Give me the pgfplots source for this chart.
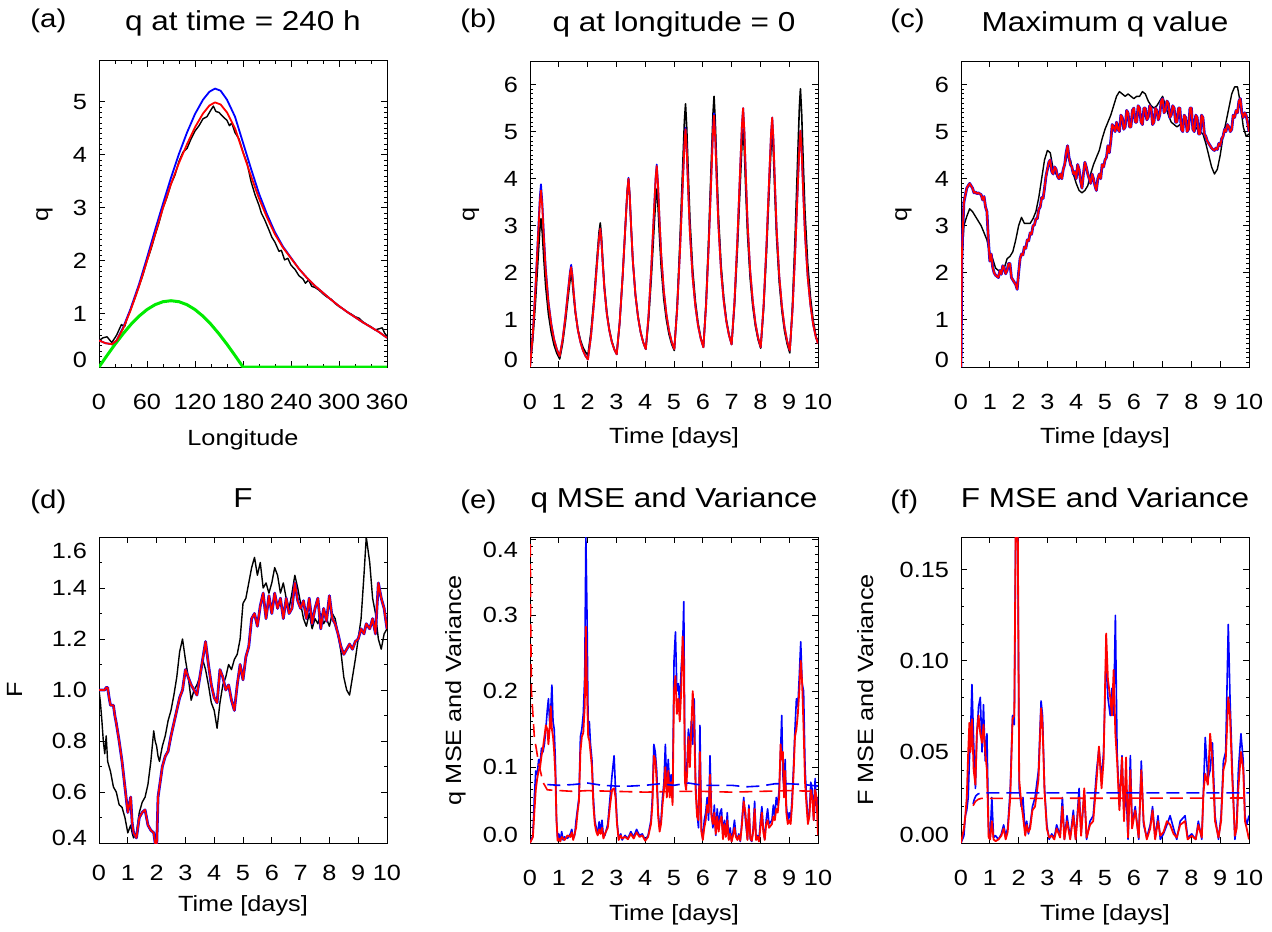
\documentclass[border=0pt]{standalone}
\usepackage{fontspec}
\setmainfont{Liberation Sans}[FakeStretch=1.15]
\usepackage{pgfplots}
\pgfplotsset{compat=1.18}
\usepackage{pgfplotstable}

\definecolor{cblue}{RGB}{0,0,255}
\definecolor{cred}{RGB}{255,0,0}
\definecolor{cgreen}{RGB}{0,235,0}
\newcommand\tickfont{\fontsize{11}{13}\selectfont}
\newcommand\labfont{\fontsize{11}{13}\selectfont}
\newcommand\titfont{\fontsize{13.7}{16}\selectfont}
\newcommand\letfont{\fontsize{12.8}{15}\selectfont}

\pgfplotsset{
  panel/.style={
    scale only axis, width=144pt, height=153pt, anchor=south west,
    axis line style={line width=0.5pt},
    tick align=inside, xtick pos=both, ytick pos=both,
    major tick length=2.8pt, minor tick length=1.5pt,
    every tick/.style={black, line width=0.5pt},
    /pgf/number format/assume math mode=true,
    title style={font=\titfont, at={([yshift=9pt]axis description cs:0.5,1)}, anchor=base},
    yticklabel style={font=\tickfont, xshift=-2.5pt},
    xticklabel style={font=\tickfont},
    every axis plot/.append style={line join=round},
  },
  ylab/.style={every axis y label/.style={at={([xshift=-#1]axis description cs:0,0.5)}, anchor=base, rotate=90, font=\labfont}},
  xlab/.style={every axis x label/.style={at={([yshift=-#1]axis description cs:0.5,0)}, anchor=base, font=\labfont}},
  timex/.style={xmin=0, xmax=10, xtick={0,1,2,3,4,5,6,7,8,9,10}, xlabel={Time [days]}},
  dsh/.style={dash pattern=on 6.5pt off 3.5pt},
}

\pgfplotstableread{
x red blue
0 0.50 0.50
8 0.45 0.45
16 0.43 0.43
22 0.50 0.50
30 0.72 0.74
39 1.05 1.08
50 1.52 1.56
60 2.00 2.06
70 2.50 2.58
80 3.00 3.08
90 3.45 3.57
100 3.85 4.02
110 4.20 4.42
120 4.52 4.77
130 4.78 5.04
138 4.93 5.19
145 4.99 5.25
152 4.95 5.21
160 4.80 5.04
170 4.50 4.72
180 4.05 4.23
190 3.60 3.74
200 3.18 3.27
210 2.82 2.88
220 2.50 2.54
230 2.25 2.27
240 2.05 2.06
250 1.85 1.85
260 1.68 1.68
270 1.53 1.53
280 1.40 1.40
290 1.27 1.27
300 1.15 1.15
310 1.04 1.04
320 0.94 0.94
330 0.84 0.84
340 0.75 0.75
350 0.66 0.66
360 0.55 0.55
}\dataArb

\pgfplotstableread{
x y
0 0.50
5 0.55
10 0.57
16 0.46
22 0.60
28 0.80
32 0.76
36 0.95
40 1.10
45 1.30
50 1.52
55 1.74
60 2.00
65 2.22
70 2.48
75 2.72
80 3.00
85 3.20
90 3.45
95 3.62
100 3.88
105 4.05
110 4.12
115 4.30
120 4.45
125 4.55
130 4.68
135 4.72
140 4.85
143 4.92
146 4.82
150 4.80
155 4.72
160 4.65
163 4.55
166 4.60
170 4.42
175 4.30
180 4.05
185 3.85
190 3.50
195 3.25
200 3.05
203 2.90
207 2.78
212 2.60
216 2.45
220 2.35
225 2.18
228 2.20
232 2.02
236 2.05
240 1.92
245 1.84
250 1.72
255 1.66
258 1.58
262 1.64
266 1.52
270 1.50
275 1.45
280 1.38
285 1.32
290 1.28
295 1.20
300 1.14
305 1.10
310 1.04
315 1.00
320 0.95
325 0.92
330 0.85
335 0.80
340 0.76
345 0.70
350 0.72
354 0.74
357 0.64
360 0.58
}\dataAk

\pgfplotstableread{
x y
0 0
10 0.217
20 0.428
30 0.625
40 0.804
50 0.958
60 1.083
70 1.175
80 1.231
90 1.250
100 1.231
110 1.175
120 1.083
130 0.958
140 0.804
150 0.625
160 0.428
170 0.217
180 0
360 0
}\dataAg

\pgfplotstableread{
t black red blue
0.000 0.000 0.000 0.000
0.095 0.567 0.675 0.698
0.190 1.386 1.650 1.707
0.285 2.360 2.810 2.910
0.342 2.930 3.490 3.608
0.380 3.150 3.750 3.880
0.426 2.852 3.398 3.515
0.478 2.316 2.764 2.858
0.543 1.720 2.060 2.128
0.640 1.124 1.356 1.398
0.738 0.736 0.899 0.924
0.835 0.468 0.582 0.595
0.933 0.289 0.371 0.376
1.030 0.170 0.230 0.230
1.130 0.494 0.570 0.580
1.230 0.962 1.062 1.080
1.330 1.520 1.648 1.680
1.390 1.844 1.988 2.030
1.430 1.970 2.120 2.170
1.471 1.798 1.924 1.960
1.517 1.488 1.571 1.590
1.575 1.144 1.179 1.190
1.662 0.800 0.787 0.787
1.749 0.577 0.532 0.532
1.836 0.422 0.356 0.356
1.923 0.319 0.238 0.238
2.010 0.250 0.160 0.160
2.118 0.756 0.660 0.660
2.225 1.486 1.383 1.383
2.333 2.358 2.245 2.245
2.397 2.863 2.745 2.745
2.440 3.060 2.940 2.940
2.480 2.781 2.673 2.673
2.526 2.279 2.192 2.192
2.583 1.721 1.658 1.658
2.668 1.163 1.124 1.124
2.754 0.800 0.777 0.777
2.839 0.549 0.537 0.537
2.925 0.382 0.377 0.377
3.010 0.270 0.270 0.270
3.113 0.941 0.941 0.941
3.215 1.911 1.911 1.911
3.318 3.068 3.068 3.068
3.379 3.739 3.739 3.739
3.420 4.000 4.000 4.020
3.462 3.638 3.638 3.638
3.510 2.986 2.986 2.986
3.570 2.262 2.262 2.262
3.660 1.538 1.538 1.538
3.750 1.068 1.068 1.068
3.840 0.742 0.742 0.742
3.930 0.525 0.525 0.525
4.020 0.380 0.380 0.380
4.115 0.992 1.080 1.080
4.210 1.876 2.092 2.092
4.305 2.930 3.298 3.298
4.362 3.542 3.998 4.020
4.400 3.780 4.270 4.300
4.443 3.437 3.881 3.900
4.492 2.820 3.181 3.181
4.553 2.134 2.403 2.403
4.644 1.448 1.625 1.625
4.736 1.002 1.119 1.119
4.827 0.693 0.769 0.769
4.919 0.487 0.536 0.536
5.010 0.350 0.380 0.380
5.108 1.293 1.221 1.221
5.205 2.656 2.435 2.435
5.303 4.280 3.883 3.883
5.361 5.223 4.723 4.723
5.400 5.590 5.050 5.080
5.443 5.073 4.587 4.587
5.493 4.142 3.754 3.754
5.555 3.108 2.828 2.828
5.648 2.074 1.902 1.902
5.741 1.402 1.300 1.300
5.834 0.937 0.883 0.883
5.927 0.627 0.605 0.605
6.020 0.420 0.420 0.420
6.113 1.379 1.306 1.306
6.205 2.765 2.585 2.585
6.298 4.418 4.110 4.110
6.353 5.377 4.996 5.030
6.390 5.750 5.340 5.390
6.433 5.223 4.854 4.880
6.482 4.274 3.979 3.979
6.543 3.220 3.007 3.007
6.634 2.166 2.035 2.035
6.726 1.481 1.403 1.403
6.817 1.007 0.966 0.966
6.909 0.691 0.674 0.674
7.000 0.480 0.480 0.480
7.100 1.303 1.384 1.384
7.200 2.491 2.689 2.689
7.300 3.908 4.245 4.245
7.360 4.730 5.149 5.149
7.400 5.050 5.500 5.500
7.443 4.585 4.992 4.992
7.492 3.748 4.078 4.078
7.553 2.818 3.062 3.062
7.644 1.888 2.046 2.046
7.736 1.284 1.385 1.385
7.827 0.865 0.928 0.928
7.919 0.586 0.623 0.623
8.010 0.400 0.420 0.420
8.110 1.226 1.298 1.298
8.210 2.420 2.567 2.567
8.310 3.843 4.080 4.080
8.370 4.669 4.958 4.958
8.410 4.990 5.300 5.300
8.453 4.521 4.805 4.805
8.502 3.677 3.914 3.914
8.563 2.739 2.924 2.924
8.654 1.801 1.934 1.934
8.746 1.191 1.291 1.291
8.837 0.769 0.845 0.845
8.929 0.488 0.548 0.548
9.020 0.300 0.350 0.350
9.113 1.310 1.191 1.191
9.205 2.768 2.405 2.405
9.298 4.508 3.853 3.853
9.353 5.519 4.693 4.693
9.390 5.910 5.020 5.020
9.434 5.364 4.563 4.563
9.485 4.381 3.740 3.740
9.548 3.289 2.826 2.826
9.642 2.197 1.912 1.912
9.737 1.487 1.318 1.318
9.831 0.996 0.907 0.907
9.926 0.668 0.633 0.633
10.000 0.500 0.500 0.500
}\dataB

\pgfplotstableread{
t black
0.00 0.00
0.03 2.20
0.10 3.00
0.20 3.20
0.30 3.36
0.40 3.30
0.50 3.20
0.60 3.10
0.70 3.00
0.80 2.85
0.90 2.70
0.95 2.55
1.00 2.40
1.05 2.35
1.10 2.30
1.20 2.10
1.30 2.05
1.40 2.05
1.50 2.10
1.60 2.30
1.70 2.35
1.80 2.45
1.90 2.70
1.95 2.85
2.00 3.00
2.10 3.18
2.20 3.05
2.30 3.05
2.40 3.05
2.50 3.15
2.60 3.30
2.70 3.60
2.80 4.00
2.90 4.40
3.00 4.60
3.10 4.55
3.20 4.20
3.30 4.10
3.40 4.05
3.50 4.10
3.60 4.30
3.70 4.50
3.80 4.40
3.90 4.10
4.00 3.90
4.10 3.75
4.20 3.70
4.30 3.75
4.40 3.85
4.50 4.10
4.60 4.30
4.70 4.45
4.80 4.60
4.90 4.85
5.00 5.05
5.10 5.20
5.20 5.35
5.30 5.55
5.40 5.75
5.50 5.85
5.60 5.80
5.70 5.75
5.80 5.80
5.90 5.75
6.00 5.70
6.10 5.75
6.20 5.75
6.30 5.85
6.40 5.80
6.50 5.65
6.60 5.55
6.70 5.50
6.80 5.55
6.90 5.65
7.00 5.75
7.10 5.55
7.20 5.35
7.30 5.20
7.40 5.15
7.50 5.10
7.60 5.15
7.70 5.20
7.80 5.15
7.90 5.20
8.00 5.30
8.10 5.15
8.20 5.05
8.30 5.00
8.40 4.95
8.50 4.75
8.60 4.50
8.70 4.25
8.80 4.10
8.90 4.20
9.00 4.50
9.10 4.90
9.20 5.20
9.30 5.50
9.40 5.80
9.50 5.95
9.60 5.95
9.70 5.60
9.80 5.10
9.90 4.90
10.00 4.95
}\dataCk

\pgfplotstableread{
t red
0.00 0.00
0.03 2.40
0.10 3.50
0.20 3.80
0.30 3.90
0.35 3.85
0.40 3.80
0.45 3.70
0.50 3.72
0.55 3.68
0.60 3.70
0.70 3.66
0.75 3.55
0.80 3.62
0.85 3.40
0.90 3.30
0.95 2.70
1.00 2.25
1.05 2.40
1.10 2.12
1.15 2.00
1.20 1.95
1.30 1.90
1.35 2.05
1.40 1.97
1.45 2.15
1.50 2.10
1.55 1.98
1.60 2.05
1.65 2.20
1.70 2.20
1.75 1.90
1.80 1.85
1.85 1.80
1.90 1.75
1.95 1.65
2.00 2.00
2.05 2.30
2.10 2.40
2.15 2.38
2.20 2.55
2.25 2.52
2.30 2.70
2.35 2.68
2.40 2.85
2.45 2.82
2.50 3.00
2.55 3.02
2.60 3.15
2.65 3.15
2.70 3.35
2.75 3.40
2.80 3.60
2.85 3.58
2.90 3.80
2.95 4.05
3.00 4.20
3.05 4.35
3.10 4.40
3.15 4.15
3.20 4.10
3.25 4.25
3.30 4.20
3.35 4.05
3.40 4.00
3.45 4.10
3.50 4.00
3.55 4.20
3.60 4.30
3.65 4.55
3.70 4.70
3.75 4.45
3.80 4.30
3.85 4.25
3.90 4.10
3.95 4.15
4.00 4.00
4.05 4.30
4.10 4.20
4.15 3.95
4.20 3.80
4.25 4.10
4.30 4.35
4.35 4.25
4.40 4.10
4.45 4.00
4.50 3.90
4.55 4.10
4.60 4.00
4.65 3.85
4.70 3.75
4.75 4.00
4.80 4.10
4.85 4.00
4.90 4.30
4.95 4.25
5.00 4.40
5.05 4.45
5.10 4.70
5.15 4.55
5.20 4.80
5.25 5.15
5.30 5.10
5.35 5.00
5.40 5.20
5.45 5.05
5.50 5.00
5.55 5.35
5.60 5.30
5.65 5.05
5.70 5.10
5.75 5.45
5.80 5.40
5.85 5.10
5.90 5.10
5.95 5.45
6.00 5.50
6.05 5.20
6.10 5.20
6.15 5.55
6.20 5.50
6.25 5.20
6.30 5.15
6.35 5.50
6.40 5.50
6.45 5.25
6.50 5.30
6.55 5.55
6.60 5.50
6.65 5.15
6.70 5.20
6.75 5.50
6.80 5.45
6.85 5.25
6.90 5.35
6.95 5.65
7.00 5.70
7.05 5.40
7.10 5.45
7.15 5.65
7.20 5.60
7.25 5.30
7.30 5.35
7.35 5.55
7.40 5.50
7.45 5.20
7.50 5.20
7.55 5.50
7.60 5.50
7.65 5.05
7.70 5.00
7.75 5.35
7.80 5.30
7.85 5.00
7.90 5.05
7.95 5.50
8.00 5.50
8.05 5.05
8.10 5.00
8.15 5.35
8.20 5.30
8.25 4.95
8.30 4.95
8.35 5.35
8.40 5.30
8.45 4.95
8.50 4.90
8.55 4.80
8.60 4.75
8.65 4.70
8.70 4.65
8.75 4.62
8.80 4.60
8.85 4.65
8.90 4.62
8.95 4.75
9.00 4.70
9.05 4.85
9.10 4.90
9.15 5.05
9.20 5.00
9.25 5.15
9.30 5.10
9.35 5.00
9.40 5.05
9.45 5.35
9.50 5.30
9.55 5.45
9.60 5.40
9.65 5.65
9.70 5.70
9.75 5.40
9.80 5.30
9.85 5.40
9.90 5.35
9.95 5.20
10.00 5.00
}\dataCr

\pgfplotstableread{
t red black
0.00 1.00 1.00
0.05 1.00 0.95
0.10 1.00 0.88
0.15 1.00 0.80
0.20 1.00 0.75
0.25 1.01 0.82
0.30 1.01 0.72
0.35 0.97 0.70
0.40 0.94 0.68
0.50 0.94 0.62
0.55 0.90 0.61
0.60 0.87 0.60
0.70 0.80 0.55
0.80 0.72 0.54
0.90 0.62 0.50
1.00 0.52 0.44
1.10 0.58 0.47
1.15 0.48 0.44
1.20 0.44 0.42
1.30 0.42 0.44
1.40 0.50 0.52
1.50 0.52 0.56
1.60 0.53 0.58
1.70 0.47 0.63
1.80 0.45 0.72
1.90 0.44 0.84
1.95 0.40 0.80
2.00 0.37 0.78
2.05 0.58 0.74
2.10 0.62 0.72
2.20 0.70 0.78
2.30 0.74 0.82
2.40 0.76 0.88
2.50 0.82 0.92
2.60 0.87 0.98
2.70 0.92 1.05
2.80 0.97 1.15
2.90 1.00 1.20
3.00 1.08 1.12
3.10 1.05 1.05
3.20 1.02 0.96
3.30 1.00 1.00
3.40 0.98 1.02
3.50 1.05 1.05
3.60 1.12 1.12
3.70 1.19 1.08
3.80 1.10 1.02
3.90 1.02 0.95
4.00 0.97 0.92
4.10 0.95 0.85
4.20 1.08 0.95
4.30 1.05 1.02
4.40 1.00 1.05
4.50 1.02 1.10
4.60 0.96 1.08
4.70 0.92 1.12
4.80 1.02 1.14
4.90 1.10 1.20
5.00 1.04 1.34
5.10 1.13 1.36
5.20 1.17 1.42
5.30 1.28 1.48
5.40 1.30 1.52
5.50 1.25 1.45
5.60 1.33 1.50
5.70 1.38 1.40
5.80 1.28 1.42
5.90 1.37 1.38
6.00 1.30 1.42
6.10 1.38 1.48
6.20 1.32 1.45
6.30 1.36 1.38
6.40 1.28 1.42
6.50 1.36 1.36
6.60 1.30 1.32
6.70 1.32 1.38
6.80 1.42 1.45
6.90 1.35 1.40
7.00 1.32 1.34
7.10 1.35 1.28
7.20 1.28 1.25
7.30 1.36 1.30
7.40 1.26 1.24
7.50 1.32 1.28
7.60 1.36 1.26
7.70 1.24 1.30
7.80 1.32 1.26
7.90 1.27 1.28
8.00 1.37 1.25
8.10 1.28 1.30
8.20 1.26 1.28
8.30 1.22 1.22
8.40 1.17 1.15
8.50 1.14 1.05
8.60 1.16 1.00
8.70 1.18 0.98
8.80 1.16 1.05
8.90 1.19 1.12
9.00 1.20 1.20
9.10 1.24 1.28
9.20 1.22 1.45
9.28 1.26 1.60
9.40 1.24 1.50
9.50 1.28 1.36
9.60 1.22 1.30
9.70 1.42 1.20
9.80 1.36 1.16
9.90 1.32 1.22
10.00 1.24 1.24
}\dataD

\pgfplotstableread{
t b r
0.00 0.000 0.000
0.05 0.005 0.004
0.10 0.010 0.008
0.15 0.060 0.040
0.20 0.095 0.070
0.25 0.090 0.085
0.30 0.110 0.095
0.35 0.105 0.100
0.40 0.125 0.115
0.45 0.120 0.125
0.50 0.130 0.140
0.55 0.150 0.155
0.60 0.175 0.150
0.64 0.190 0.130
0.68 0.160 0.150
0.72 0.175 0.180
0.76 0.208 0.150
0.80 0.160 0.140
0.84 0.150 0.120
0.88 0.110 0.090
0.92 0.030 0.030
0.96 0.005 0.003
1.00 0.012 0.006
1.05 0.003 0.002
1.10 0.015 0.008
1.15 0.004 0.006
1.20 0.008 0.004
1.30 0.006 0.010
1.40 0.012 0.008
1.45 0.018 0.014
1.50 0.006 0.004
1.55 0.010 0.012
1.60 0.030 0.020
1.65 0.045 0.040
1.70 0.060 0.055
1.75 0.140 0.120
1.80 0.150 0.140
1.85 0.170 0.145
1.90 0.220 0.180
1.94 0.403 0.285
1.98 0.300 0.200
2.02 0.150 0.140
2.06 0.160 0.135
2.10 0.130 0.120
2.15 0.110 0.100
2.20 0.060 0.050
2.25 0.030 0.025
2.30 0.020 0.015
2.35 0.012 0.010
2.40 0.028 0.018
2.45 0.015 0.012
2.50 0.030 0.020
2.55 0.008 0.006
2.60 0.010 0.012
2.70 0.025 0.020
2.78 0.060 0.050
2.85 0.090 0.070
2.92 0.115 0.072
2.97 0.070 0.060
3.02 0.030 0.025
3.08 0.005 0.004
3.15 0.012 0.010
3.20 0.004 0.006
3.30 0.010 0.008
3.40 0.006 0.005
3.50 0.015 0.012
3.60 0.008 0.006
3.70 0.018 0.014
3.80 0.010 0.008
3.90 0.012 0.010
4.00 0.004 0.003
4.10 0.010 0.008
4.20 0.030 0.025
4.25 0.060 0.050
4.30 0.130 0.115
4.35 0.120 0.110
4.40 0.095 0.080
4.45 0.040 0.035
4.50 0.020 0.015
4.55 0.030 0.025
4.60 0.060 0.050
4.65 0.080 0.070
4.70 0.130 0.100
4.75 0.070 0.060
4.80 0.110 0.095
4.85 0.075 0.060
4.90 0.090 0.080
4.95 0.060 0.050
5.00 0.240 0.200
5.05 0.278 0.220
5.10 0.200 0.170
5.15 0.210 0.190
5.20 0.180 0.160
5.25 0.230 0.200
5.30 0.260 0.272
5.34 0.318 0.240
5.38 0.100 0.080
5.42 0.090 0.070
5.46 0.110 0.095
5.50 0.150 0.140
5.55 0.120 0.100
5.60 0.160 0.150
5.65 0.130 0.200
5.70 0.190 0.160
5.75 0.080 0.070
5.80 0.040 0.035
5.85 0.020 0.030
5.90 0.155 0.120
5.95 0.020 0.015
6.00 0.005 0.004
6.05 0.030 0.020
6.10 0.040 0.030
6.15 0.060 0.050
6.20 0.030 0.040
6.25 0.115 0.090
6.30 0.040 0.035
6.35 0.020 0.025
6.40 0.050 0.040
6.45 0.010 0.012
6.50 0.045 0.035
6.55 0.020 0.015
6.60 0.040 0.030
6.65 0.045 0.035
6.70 0.008 0.005
6.75 0.030 0.025
6.80 0.010 0.008
6.85 0.040 0.030
6.90 0.005 0.004
6.95 0.020 0.012
7.00 0.002 0.002
7.05 0.015 0.010
7.10 0.030 0.020
7.15 0.010 0.008
7.20 0.005 0.004
7.25 0.012 0.010
7.30 0.002 0.003
7.35 0.025 0.020
7.42 0.060 0.055
7.48 0.030 0.040
7.55 0.005 0.004
7.60 0.050 0.045
7.65 0.005 0.006
7.70 0.002 0.003
7.75 0.020 0.015
7.80 0.055 0.045
7.85 0.005 0.004
7.90 0.010 0.008
7.95 0.003 0.002
8.00 0.030 0.020
8.05 0.048 0.040
8.10 0.020 0.015
8.15 0.005 0.004
8.20 0.030 0.025
8.25 0.045 0.030
8.30 0.025 0.020
8.40 0.030 0.025
8.45 0.050 0.035
8.50 0.035 0.030
8.55 0.060 0.045
8.60 0.050 0.040
8.65 0.070 0.060
8.70 0.120 0.130
8.74 0.168 0.110
8.78 0.090 0.120
8.82 0.070 0.060
8.86 0.110 0.095
8.90 0.050 0.040
8.95 0.030 0.025
9.00 0.040 0.030
9.05 0.030 0.025
9.10 0.060 0.050
9.15 0.100 0.090
9.20 0.150 0.140
9.25 0.190 0.150
9.30 0.180 0.170
9.35 0.220 0.200
9.40 0.265 0.240
9.45 0.210 0.210
9.50 0.200 0.150
9.55 0.100 0.080
9.60 0.060 0.050
9.65 0.030 0.025
9.70 0.040 0.035
9.75 0.080 0.070
9.80 0.070 0.060
9.85 0.030 0.030
9.90 0.085 0.070
9.95 0.040 0.060
10.00 0.060 0.010
}\dataE

\pgfplotstableread{
t v
0.60 0.077
1.0 0.076
1.5 0.077
2.0 0.079
2.5 0.076
3.0 0.075
3.5 0.075
4.0 0.076
4.5 0.078
5.0 0.076
5.5 0.079
6.0 0.076
6.5 0.076
7.0 0.076
7.5 0.074
8.0 0.075
8.5 0.078
9.0 0.078
9.5 0.077
10.0 0.075
}\dataEbd

\pgfplotstableread{
t v
0.01 0.420
0.02 0.300
0.05 0.200
0.15 0.140
0.30 0.105
0.45 0.080
0.60 0.070
1.5 0.068
2.0 0.069
3.0 0.068
4.0 0.067
5.0 0.068
6.0 0.068
7.0 0.067
8.0 0.068
9.0 0.069
10.0 0.068
}\dataErd

\pgfplotstableread{
t b r
0.00 0.000 0.000
0.05 0.002 0.004
0.10 0.004 0.008
0.15 0.015 0.015
0.20 0.018 0.025
0.25 0.025 0.050
0.29 0.045 0.066
0.33 0.060 0.050
0.38 0.087 0.068
0.44 0.055 0.040
0.50 0.030 0.032
0.55 0.060 0.060
0.61 0.075 0.070
0.67 0.080 0.060
0.73 0.050 0.055
0.78 0.076 0.065
0.84 0.045 0.050
0.90 0.060 0.040
0.96 0.005 0.003
1.01 0.002 0.002
1.07 0.025 0.012
1.13 0.003 0.002
1.20 0.004 0.001
1.30 0.002 0.002
1.40 0.005 0.004
1.48 0.010 0.008
1.55 0.004 0.002
1.62 0.008 0.006
1.71 0.030 0.025
1.79 0.070 0.068
1.85 0.065 0.070
1.90 0.175 0.175
1.97 0.175 0.175
2.02 0.030 0.035
2.09 0.020 0.022
2.15 0.025 0.015
2.23 0.005 0.004
2.28 0.012 0.010
2.34 0.005 0.006
2.40 0.010 0.008
2.48 0.020 0.018
2.57 0.025 0.020
2.69 0.040 0.035
2.78 0.078 0.074
2.83 0.070 0.065
2.90 0.030 0.028
2.98 0.010 0.008
3.06 0.002 0.003
3.15 0.005 0.004
3.24 0.003 0.002
3.32 0.010 0.008
3.44 0.004 0.003
3.52 0.025 0.020
3.59 0.002 0.002
3.68 0.015 0.012
3.79 0.003 0.002
3.90 0.018 0.015
3.98 0.002 0.002
4.10 0.030 0.025
4.17 0.005 0.004
4.28 0.028 0.030
4.36 0.002 0.003
4.48 0.012 0.010
4.59 0.015 0.012
4.71 0.040 0.035
4.79 0.052 0.053
4.88 0.035 0.030
4.95 0.050 0.045
5.04 0.105 0.115
5.10 0.080 0.090
5.18 0.070 0.080
5.24 0.085 0.070
5.30 0.070 0.095
5.36 0.125 0.060
5.42 0.050 0.045
5.50 0.020 0.018
5.59 0.048 0.047
5.66 0.015 0.012
5.73 0.030 0.047
5.80 0.002 0.003
5.88 0.048 0.040
5.94 0.010 0.008
6.05 0.020 0.018
6.17 0.002 0.003
6.26 0.045 0.040
6.34 0.010 0.012
6.45 0.003 0.002
6.57 0.010 0.008
6.65 0.020 0.018
6.74 0.003 0.002
6.84 0.015 0.012
6.92 0.002 0.004
7.03 0.005 0.006
7.15 0.010 0.012
7.26 0.015 0.010
7.38 0.008 0.005
7.49 0.002 0.003
7.61 0.012 0.010
7.78 0.015 0.012
7.87 0.003 0.002
8.01 0.005 0.004
8.15 0.002 0.002
8.24 0.012 0.010
8.36 0.002 0.003
8.42 0.030 0.028
8.48 0.058 0.038
8.57 0.035 0.032
8.65 0.040 0.060
8.73 0.055 0.045
8.82 0.015 0.012
8.94 0.002 0.003
9.03 0.015 0.012
9.11 0.045 0.040
9.19 0.050 0.045
9.28 0.120 0.080
9.34 0.080 0.070
9.42 0.040 0.035
9.51 0.002 0.004
9.57 0.010 0.008
9.63 0.040 0.030
9.72 0.060 0.050
9.80 0.045 0.040
9.86 0.015 0.012
9.92 0.010 0.008
10.00 0.015 0.002
}\dataF

\pgfplotstableread{
t v
0.42 0.0215
0.46 0.0240
0.52 0.0260
0.60 0.0270
0.70 0.0275
10.0 0.0275
}\dataFbd

\pgfplotstableread{
t v
0.42 0.0205
0.50 0.0228
0.60 0.0240
0.70 0.0245
10.0 0.0247
}\dataFrd

\begin{document}
\begin{tikzpicture}
\path (0,0) rectangle (636pt,464pt);

% (a)
\begin{axis}[panel, at={(49.5pt,280.5pt)},
  xticklabel style={yshift=-10pt},
  xmin=0, xmax=360, xtick={0,60,120,180,240,300,360}, minor x tick num=2,
  ymin=0, ymax=5.77, ytick={0,1,2,3,4,5},
  yticklabels={\raisebox{3.5pt}[0.7em][0pt]{0},1,2,3,4,5}, minor y tick num=9,
  xlabel={Longitude}, xlab=39pt, ylabel={q}, ylab=25.5pt,
  title={q at time = 240 h}]
\addplot[cgreen, line width=1.5pt] table[x=x,y=y] {\dataAg};
\addplot[black, line width=0.7pt] table[x=x,y=y] {\dataAk};
\addplot[cblue, line width=0.9pt] table[x=x,y=blue] {\dataArb};
\addplot[cred, line width=0.9pt] table[x=x,y=red] {\dataArb};
\end{axis}

% (b)
\begin{axis}[panel, at={(265pt,280.5pt)}, timex, xlab=38pt,
  xticklabel style={yshift=-10pt},
  ymin=0, ymax=6.5, ytick={0,1,2,3,4,5,6},
  yticklabels={\raisebox{3.5pt}[0.7em][0pt]{0},1,2,3,4,5,6}, minor y tick num=9,
  ylabel={q}, ylab=27.7pt, title={q at longitude = 0}]
\addplot[black, line width=0.8pt] table[x=t,y=black] {\dataB};
\addplot[cblue, line width=0.9pt] table[x=t,y=blue] {\dataB};
\addplot[cred, line width=0.9pt] table[x=t,y=red] {\dataB};
\end{axis}

% (c)
\begin{axis}[panel, at={(480.5pt,280.5pt)}, timex, xlab=38pt,
  xticklabel style={yshift=-10pt},
  ymin=0, ymax=6.5, ytick={0,1,2,3,4,5,6},
  yticklabels={\raisebox{3.5pt}[0.7em][0pt]{0},1,2,3,4,5,6}, minor y tick num=9,
  ylabel={q}, ylab=27pt, title={Maximum q value}]
\addplot[black, line width=0.7pt] table[x=t,y=black] {\dataCk};
\addplot[cblue, line width=1.4pt] table[x=t,y=red] {\dataCr};
\addplot[cred, line width=0.9pt] table[x=t,y=red] {\dataCr};
\end{axis}

% (d)
\begin{axis}[panel, at={(49.5pt,42.5pt)}, timex, xlab=34.3pt,
  xticklabel style={yshift=-7.5pt},
  ymin=0.4, ymax=1.6, ytick={0.4,0.6,0.8,1.0,1.2,1.4,1.6},
  yticklabels={\raisebox{2.5pt}[0.7em][0pt]{0.4},0.6,0.8,1.0,1.2,1.4,\raisebox{-6.7pt}[0.7em][0pt]{1.6}},
  minor y tick num=1,
  ylabel={F}, ylab=38.5pt, title={F}]
\addplot[black, line width=0.7pt] table[x=t,y=black] {\dataD};
\addplot[cblue, line width=1.4pt] table[x=t,y=red] {\dataD};
\addplot[cred, line width=0.9pt] table[x=t,y=red] {\dataD};
\end{axis}

% (e)
\begin{axis}[panel, at={(265pt,42.5pt)}, timex, xlab=38.5pt,
  xticklabel style={yshift=-10pt},
  ymin=0, ymax=0.403, ytick={0,0.1,0.2,0.3,0.4},
  yticklabels={\raisebox{4pt}[0.7em][0pt]{0.0},0.1,0.2,0.3,\raisebox{-5.5pt}[0.7em][0pt]{0.4}},
  minor y tick num=9,
  ylabel={q MSE and Variance}, ylab=34.5pt, title={q MSE and Variance}]
\addplot[cblue, line width=0.8pt] table[x=t,y=b] {\dataE};
\addplot[cred, line width=0.9pt] table[x=t,y=r] {\dataE};
\addplot[cblue, line width=0.8pt, dsh] table[x=t,y=v] {\dataEbd};
\addplot[cred, line width=0.8pt, dsh] table[x=t,y=v] {\dataErd};
\end{axis}

% (f)
\begin{axis}[panel, at={(480.5pt,42.5pt)}, timex, xlab=38.5pt,
  xticklabel style={yshift=-10pt},
  ymin=0, ymax=0.168, ytick={0,0.05,0.10,0.15},
  yticklabels={\raisebox{4pt}[0.7em][0pt]{0.00},0.05,0.10,0.15},
  minor y tick num=4,
  ylabel={F MSE and Variance}, ylab=44pt, title={F MSE and Variance}]
\addplot[cblue, line width=0.8pt] table[x=t,y=b] {\dataF};
\addplot[cred, line width=0.9pt] table[x=t,y=r] {\dataF};
\addplot[cblue, line width=0.8pt, dsh] table[x=t,y=v] {\dataFbd};
\addplot[cred, line width=0.8pt, dsh] table[x=t,y=v] {\dataFrd};
\end{axis}

\node[anchor=base west, inner sep=0pt, font=\letfont] at (15pt,450pt) {(a)};
\node[anchor=base west, inner sep=0pt, font=\letfont] at (230pt,450pt) {(b)};
\node[anchor=base west, inner sep=0pt, font=\letfont] at (445pt,450pt) {(c)};
\node[anchor=base west, inner sep=0pt, font=\letfont] at (15pt,210pt) {(d)};
\node[anchor=base west, inner sep=0pt, font=\letfont] at (230pt,210pt) {(e)};
\node[anchor=base west, inner sep=0pt, font=\letfont] at (445pt,210pt) {(f)};
\end{tikzpicture}
\end{document}
